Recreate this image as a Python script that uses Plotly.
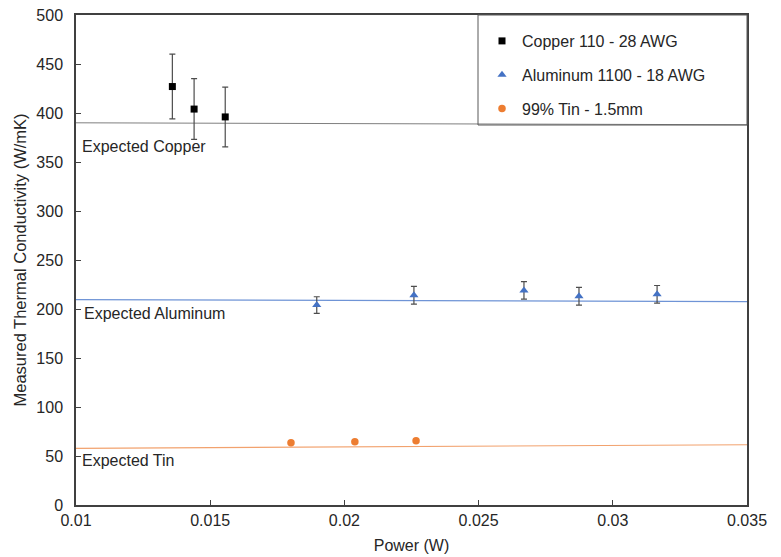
import plotly.graph_objects as go

# ---- data ----
cu_x = [0.01359, 0.01440, 0.01556]
cu_y = [427, 404, 396]
cu_err = [33, 31, 30.5]

al_x = [0.01897, 0.02259, 0.02669, 0.02874, 0.03165]
al_y = [204, 214, 219, 213, 215]
al_err = [8.5, 9, 9, 9, 9]

sn_x = [0.01801, 0.02039, 0.02267]
sn_y = [63.5, 64.5, 65.5]

exp_x = [0.01, 0.035]
exp_cu = [390, 388]
exp_al = [209.5, 207.5]
exp_sn = [57.8, 61.5]

names = ["Copper 110 - 28 AWG", "Aluminum 1100 - 18 AWG", "99% Tin - 1.5mm"]
labels = ["Expected Copper", "Expected Aluminum", "Expected Tin"]
x_ticks = [0.01, 0.015, 0.02, 0.025, 0.03, 0.035]
y_ticks = [0, 50, 100, 150, 200, 250, 300, 350, 400, 450, 500]

FONT = "Liberation Sans, Arial, sans-serif"
BLUE = "#4472C4"
ORANGE = "#ED7D31"
TXT = "#262626"

W, H = 781, 557
ML, MR, MT, MB = 76, 34, 15, 52
PW = W - ML - MR
PH = H - MT - MB

fig = go.Figure()

# expected lines
fig.add_trace(go.Scatter(x=exp_x, y=exp_cu, mode="lines", line=dict(color="#7f7f7f", width=1),
                         showlegend=False, hoverinfo="skip"))
fig.add_trace(go.Scatter(x=exp_x, y=exp_al, mode="lines", line=dict(color="#6f94d6", width=1.2),
                         showlegend=False, hoverinfo="skip"))
fig.add_trace(go.Scatter(x=exp_x, y=exp_sn, mode="lines", line=dict(color="#f2a26e", width=1.2),
                         showlegend=False, hoverinfo="skip"))

err_style = dict(type="data", thickness=1.2, width=3, color="#4d4d4d")

fig.add_trace(go.Scatter(x=cu_x, y=cu_y, mode="markers", name=names[0], legendgroup="a",
                         marker=dict(symbol="square", size=7, color="black"),
                         error_y=dict(array=cu_err, **err_style)))
fig.add_trace(go.Scatter(x=al_x, y=al_y, mode="markers", name=names[1], legendgroup="b",
                         marker=dict(symbol="triangle-up", size=8, color=BLUE),
                         error_y=dict(array=al_err, **err_style)))
fig.add_trace(go.Scatter(x=sn_x, y=sn_y, mode="markers", name=names[2], legendgroup="c",
                         marker=dict(symbol="circle", size=7.5, color=ORANGE)))

# label positions (y in data units of the text centre)
label_y = [365.6, 195.6, 45.9]
label_shift = [4, 6, 4]
ann_font = dict(family=FONT, size=16, color=TXT)
for txt, yv, xs in zip(labels, label_y, label_shift):
    fig.add_annotation(x=0.01, y=yv, xref="x", yref="y", text=txt, showarrow=False,
                       xanchor="left", yanchor="middle", xshift=xs, font=ann_font)

# legend frame
def px_x(p):
    return (p - ML) / PW

def px_y(p):
    return 1 - (p - MT) / PH

fig.add_shape(type="rect", xref="paper", yref="paper",
              x0=px_x(478), x1=px_x(747), y0=px_y(125), y1=px_y(15),
              line=dict(color="#595959", width=1), fillcolor="rgba(0,0,0,0)", layer="above")

fig.update_layout(
    width=W, height=H,
    margin=dict(l=ML, r=MR, t=MT, b=MB, autoexpand=False),
    paper_bgcolor="white", plot_bgcolor="white",
    font=dict(family=FONT, size=16, color=TXT),
    showlegend=True,
    legend=dict(x=px_x(482), y=px_y(24), xanchor="left", yanchor="top",
                font=dict(family=FONT, size=16, color=TXT),
                bgcolor="rgba(0,0,0,0)", borderwidth=0,
                traceorder="grouped", tracegroupgap=10, itemsizing="trace"),
    xaxis=dict(range=[0.01, 0.035], tickvals=x_ticks, ticktext=[str(v) for v in x_ticks],
               automargin=False,
               showgrid=False, zeroline=False, showline=True, linecolor="#404040", linewidth=1.5,
               mirror=True, ticks="inside", ticklen=5, tickcolor="#404040",
               tickfont=dict(size=16), title=dict(text="Power (W)", font=dict(size=16), standoff=12)),
    yaxis=dict(range=[0, 500], tickvals=y_ticks, automargin=False,
               showgrid=False, zeroline=False, showline=True, linecolor="#404040", linewidth=1.5,
               mirror=True, ticks="inside", ticklen=5, tickcolor="#404040",
               tickfont=dict(size=16), ticklabelstandoff=8,
               title=dict(text="Measured Thermal Conductivity (W/mK)", font=dict(size=16.5), standoff=6)),
)

fig.write_html("out.html")
